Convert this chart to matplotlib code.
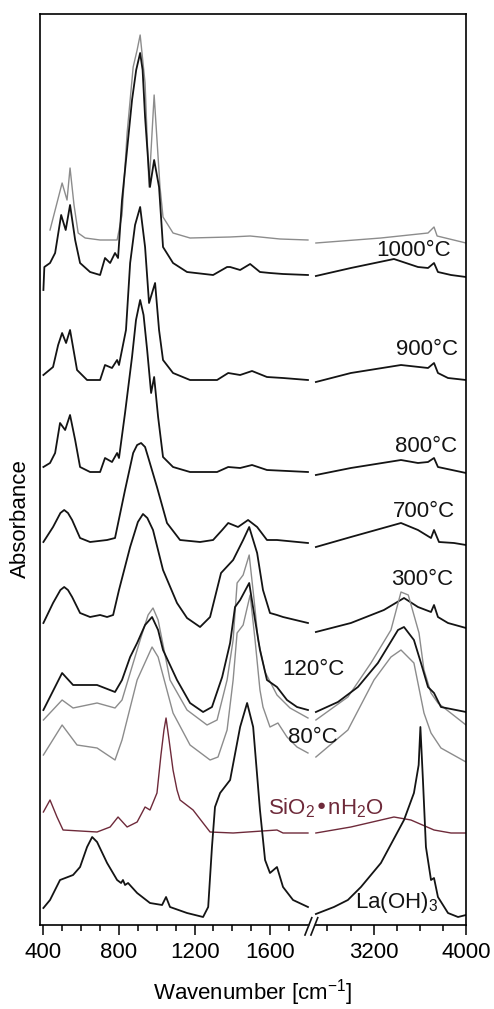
import numpy as np
import matplotlib.pyplot as plt
from matplotlib.ticker import FixedLocator, NullLocator

plt.rcParams['font.family'] = ['Liberation Sans', 'DejaVu Sans']
plt.rcParams['mathtext.default'] = 'regular'

# FTIR spectra, wavenumber [cm-1] vs. offset absorbance (a.u.)
wn_1000g = [435, 499, 525, 541, 562, 584, 621, 700, 790, 816, 843, 875, 896, 912, 938, 959, 986, 1017, 1033,
            1086, 1176, 1388, 1494, 1652, 1800, 2700, 3263, 3671, 3723, 3750, 4000]
ab_1000g = [6.95, 7.42, 7.25, 7.57, 7.20, 6.92, 6.87, 6.85, 6.85, 7.10, 7.92, 8.58, 8.75, 8.90, 8.42, 7.38, 8.30,
            7.38, 7.08, 6.92, 6.87, 6.88, 6.89, 6.86, 6.85, 6.82, 6.87, 6.92, 6.98, 6.89, 6.82]

wn_1000 = [400, 405, 435, 462, 494, 518, 541, 568, 594, 647, 700, 726, 753, 779, 795, 816, 869, 891, 912, 925,
           938, 964, 986, 1012, 1033, 1086, 1160, 1298, 1372, 1388, 1441, 1494, 1546, 1599, 1668, 1800,
           2700, 3003, 3376, 3584, 3671, 3723, 3757, 3870, 4000]
ab_1000 = [6.35, 6.58, 6.62, 6.72, 7.10, 6.95, 7.20, 6.85, 6.62, 6.53, 6.50, 6.67, 6.62, 6.72, 6.67, 7.25, 8.25,
           8.55, 8.72, 8.55, 8.08, 7.38, 7.65, 7.38, 6.78, 6.62, 6.53, 6.50, 6.58, 6.58, 6.55, 6.61, 6.53, 6.52,
           6.51, 6.50,
           6.49, 6.57, 6.66, 6.58, 6.57, 6.62, 6.53, 6.50, 6.48]

wn_900 = [400, 451, 478, 499, 520, 541, 578, 631, 700, 726, 763, 790, 800, 837, 859, 885, 912, 938, 959, 991,
          1012, 1033, 1086, 1176, 1319, 1378, 1441, 1504, 1583, 1668, 1800,
          2700, 3003, 3437, 3671, 3723, 3757, 3844, 4000]
ab_900 = [5.50, 5.58, 5.80, 5.92, 5.82, 5.95, 5.55, 5.45, 5.45, 5.60, 5.57, 5.65, 5.60, 5.95, 6.62, 7.00, 7.18,
          6.78, 6.22, 6.42, 5.95, 5.65, 5.52, 5.45, 5.45, 5.52, 5.50, 5.54, 5.48, 5.47, 5.45,
          5.43, 5.52, 5.60, 5.57, 5.62, 5.52, 5.47, 5.45]

wn_800 = [400, 435, 462, 488, 515, 541, 568, 594, 647, 700, 726, 763, 790, 800, 832, 869, 890, 912, 930, 949,
          970, 986, 1007, 1033, 1086, 1176, 1319, 1378, 1441, 1504, 1583, 1800,
          2700, 3003, 3437, 3584, 3671, 3723, 3757, 4000]
ab_800 = [4.58, 4.62, 4.72, 5.02, 4.95, 5.10, 4.85, 4.58, 4.53, 4.53, 4.67, 4.63, 4.72, 4.67, 5.12, 5.68, 6.05,
          6.25, 6.10, 5.75, 5.32, 5.48, 5.08, 4.68, 4.58, 4.53, 4.53, 4.58, 4.57, 4.60, 4.55, 4.53,
          4.50, 4.57, 4.65, 4.62, 4.63, 4.67, 4.58, 4.52]

wn_700 = [400, 451, 490, 510, 530, 552, 594, 647, 737, 779, 832, 875, 896, 917, 938, 954, 1001, 1054, 1123,
          1229, 1298, 1346, 1378, 1430, 1483, 1531, 1583, 1636, 1800,
          2700, 3003, 3437, 3584, 3697, 3723, 3766, 3896, 4000]
ab_700 = [3.83, 3.98, 4.12, 4.15, 4.12, 4.05, 3.87, 3.83, 3.85, 3.87, 4.35, 4.72, 4.80, 4.82, 4.78, 4.68, 4.38,
          4.02, 3.85, 3.83, 3.85, 3.95, 4.02, 3.98, 4.05, 3.98, 3.85, 3.85, 3.82,
          3.78, 3.88, 4.02, 3.95, 3.87, 3.95, 3.83, 3.82, 3.80]

wn_300 = [400, 451, 490, 510, 530, 552, 594, 647, 700, 737, 769, 800, 859, 900, 927, 950, 980, 1033, 1107, 1160,
          1229, 1282, 1340, 1404, 1457, 1489, 1531, 1562, 1599, 1636, 1668, 1800,
          2700, 3003, 3289, 3463, 3584, 3697, 3723, 3757, 3844, 4000]
ab_300 = [3.02, 3.22, 3.35, 3.38, 3.35, 3.28, 3.12, 3.08, 3.10, 3.08, 3.10, 3.35, 3.78, 4.03, 4.11, 4.07, 3.95,
          3.55, 3.22, 3.07, 2.98, 3.08, 3.52, 3.65, 3.85, 3.98, 3.72, 3.35, 3.12, 3.10, 3.08, 3.02,
          2.93, 3.02, 3.15, 3.27, 3.18, 3.13, 3.20, 3.08, 3.02, 2.97]

wn_120 = [400, 499, 557, 684, 779, 816, 859, 896, 938, 975, 1007, 1033, 1107, 1176, 1245, 1292, 1346, 1388,
          1414, 1441, 1489, 1520, 1546, 1583, 1636, 1689, 1742, 1800,
          2700, 2891, 3064, 3237, 3411, 3463, 3549, 3610, 3671, 3723, 3783, 4000]
ab_120 = [2.15, 2.52, 2.40, 2.40, 2.33, 2.45, 2.68, 2.82, 3.00, 3.08, 2.95, 2.75, 2.45, 2.22, 2.13, 2.18, 2.48,
          2.82, 3.18, 3.25, 3.42, 3.05, 2.75, 2.45, 2.38, 2.25, 2.18, 2.15,
          2.13, 2.23, 2.38, 2.62, 2.95, 2.98, 2.85, 2.62, 2.38, 2.32, 2.18, 2.13]

wn_grey = [400, 499, 557, 684, 779, 816, 859, 912, 954, 980, 1007, 1070, 1160, 1266, 1319, 1372, 1404, 1425,
           1457, 1489, 1515, 1536, 1573, 1636, 1705, 1800,
           2700, 2977, 3177, 3350, 3437, 3500, 3593, 3636, 3697, 3757, 4000]
ab_grey = [2.05, 2.25, 2.17, 2.22, 2.17, 2.25, 2.52, 2.85, 3.10, 3.17, 3.05, 2.45, 2.15, 2.00, 2.05, 2.45, 2.85,
           3.42, 3.50, 3.70, 3.25, 2.85, 2.53, 2.30, 2.17, 2.07,
           2.05, 2.28, 2.62, 2.95, 3.33, 3.30, 2.92, 2.55, 2.32, 2.22, 2.00]

wn_80 = [400, 499, 578, 684, 779, 816, 896, 975, 1007, 1086, 1176, 1282, 1324, 1372, 1404, 1425, 1457, 1494,
         1520, 1546, 1562, 1599, 1641, 1689, 1742, 1800,
         2700, 2977, 3203, 3350, 3437, 3549, 3636, 3697, 3783, 4000]
ab_80 = [1.70, 2.00, 1.80, 1.77, 1.65, 1.85, 2.45, 2.78, 2.68, 2.12, 1.80, 1.65, 1.68, 1.95, 2.45, 2.92, 3.00,
         3.30, 2.85, 2.35, 2.18, 1.98, 2.02, 1.88, 1.78, 1.72,
         1.68, 1.95, 2.45, 2.68, 2.75, 2.62, 2.12, 1.92, 1.77, 1.63]

wn_sio2 = [400, 435, 472, 504, 684, 753, 795, 843, 896, 938, 964, 1001, 1022, 1038, 1049, 1065, 1086, 1107,
           1123, 1192, 1245, 1282, 1404, 1636, 1668, 1800,
           2700, 3003, 3376, 3523, 3723, 3870, 4000]
ab_sio2 = [1.13, 1.25, 1.08, 0.95, 0.93, 0.98, 1.08, 0.98, 1.03, 1.18, 1.15, 1.32, 1.70, 1.95, 2.07, 1.85, 1.55,
           1.35, 1.25, 1.15, 1.02, 0.93, 0.92, 0.95, 0.92, 0.92,
           0.92, 0.98, 1.08, 1.05, 0.95, 0.92, 0.92]

wn_la = [400, 435, 488, 557, 594, 631, 658, 684, 737, 790, 811, 821, 832, 848, 896, 964, 1028, 1049, 1070,
         1160, 1245, 1272, 1292, 1308, 1335, 1388, 1441, 1478, 1510, 1546, 1573, 1599, 1636, 1668, 1721, 1800,
         2700, 2856, 2977, 3090, 3263, 3463, 3549, 3590, 3605, 3627, 3653, 3697, 3723, 3757, 3844, 3931, 4000]
ab_la = [0.17, 0.25, 0.45, 0.50, 0.58, 0.78, 0.88, 0.83, 0.62, 0.45, 0.42, 0.45, 0.40, 0.42, 0.32, 0.22, 0.20,
         0.28, 0.18, 0.12, 0.08, 0.18, 0.78, 1.18, 1.32, 1.45, 1.98, 2.22, 1.98, 1.15, 0.65, 0.52, 0.58, 0.38,
         0.25, 0.18,
         0.11, 0.18, 0.25, 0.38, 0.62, 1.05, 1.32, 1.60, 1.98, 1.45, 0.78, 0.45, 0.47, 0.28, 0.12, 0.08, 0.10]

BLACK = '#141414'
GREY = '#8c8c8c'
WINE = '#6e2a3a'

spectra = [
    (wn_1000g, ab_1000g, GREY, 1.0),
    (wn_1000, ab_1000, BLACK, 1.3),
    (wn_900, ab_900, BLACK, 1.3),
    (wn_800, ab_800, BLACK, 1.3),
    (wn_700, ab_700, BLACK, 1.3),
    (wn_300, ab_300, BLACK, 1.3),
    (wn_grey, ab_grey, GREY, 1.0),
    (wn_80, ab_80, GREY, 1.0),
    (wn_120, ab_120, BLACK, 1.3),
    (wn_sio2, ab_sio2, WINE, 1.0),
    (wn_la, ab_la, BLACK, 1.3),
]

# broken x axis: 400-1800 and 2700-4000, right part compressed
gap_lo, gap_hi = 1800, 2700
xp = [-1e5, gap_lo, gap_hi, 1e5]
up = [-1e5, gap_lo, gap_lo + 42, gap_lo + 42 + (1e5 - gap_hi) * 0.611]


def fwd(x):
    return np.interp(x, xp, up)


def inv(u):
    return np.interp(u, up, xp)


fig = plt.figure(figsize=(4.94, 10.09), dpi=100)
ax = fig.add_axes([40 / 494, 1 - 925 / 1009, 426 / 494, 911 / 1009])
ax.set_xscale('function', functions=(fwd, inv))

for wn, ab, col, lw in spectra:
    wn = np.array(wn)
    ab = np.array(ab)
    left = wn <= gap_lo
    right = wn >= gap_hi
    ax.plot(wn[left], ab[left], color=col, lw=lw, solid_joinstyle='round')
    ax.plot(wn[right], ab[right], color=col, lw=lw, solid_joinstyle='round')

ax.set_xlim(382, 4000)
ax.set_ylim(0, 9.11)

ax.xaxis.set_major_locator(FixedLocator([400, 800, 1200, 1600, 3200, 4000]))
minor = [500, 600, 700, 900, 1000, 1100, 1300, 1400, 1500, 1700, 2800, 3000, 3400, 3600, 3800]
ax.xaxis.set_minor_locator(FixedLocator(minor))
ax.xaxis.set_major_formatter(plt.FuncFormatter(lambda v, p: f'{v:.0f}'))
ax.yaxis.set_major_locator(NullLocator())
ax.tick_params(axis='x', which='major', direction='out', length=7, width=1.1, labelsize=16, pad=5)
ax.tick_params(axis='x', which='minor', direction='out', length=4, width=1.1)
for s in ax.spines.values():
    s.set_linewidth(1.2)

# break marks on the bottom axis
ax.fill([0.626, 0.641, 0.650, 0.635], [-0.011, 0.008, 0.008, -0.011], color='white',
        transform=ax.transAxes, clip_on=False, zorder=5)
for x0 in (0.622, 0.636):
    ax.plot([x0, x0 + 0.016], [-0.011, 0.008], color=BLACK, lw=1.2,
            transform=ax.transAxes, clip_on=False, zorder=6)

fig.text(253 / 494, 1 - 993 / 1009, 'Wavenumber [cm$^{-1}$]', ha='center', va='center', fontsize=16)
fig.text(20 / 494, 1 - 519 / 1009, 'Absorbance', ha='center', va='center', rotation=90, fontsize=16)

labels = [
    ('1000°C', 0.965, 0.734, 'right'),
    ('900°C', 0.981, 0.626, 'right'),
    ('800°C', 0.979, 0.519, 'right'),
    ('700°C', 0.974, 0.448, 'right'),
    ('300°C', 0.969, 0.373, 'right'),
    ('120°C', 0.568, 0.274, 'left'),
    ('80°C', 0.582, 0.200, 'left'),
]
for txt, x, y, ha in labels:
    ax.text(x, y, txt, transform=ax.transAxes, ha=ha, va='baseline', fontsize=16, color=BLACK)
ax.text(0.535, 0.121, 'SiO$_2$•nH$_2$O', transform=ax.transAxes, ha='left', va='baseline',
        fontsize=16, color=WINE)
ax.text(0.739, 0.019, 'La(OH)$_3$', transform=ax.transAxes, ha='left', va='baseline',
        fontsize=16, color=BLACK)

fig.savefig('out.png', dpi=100)
